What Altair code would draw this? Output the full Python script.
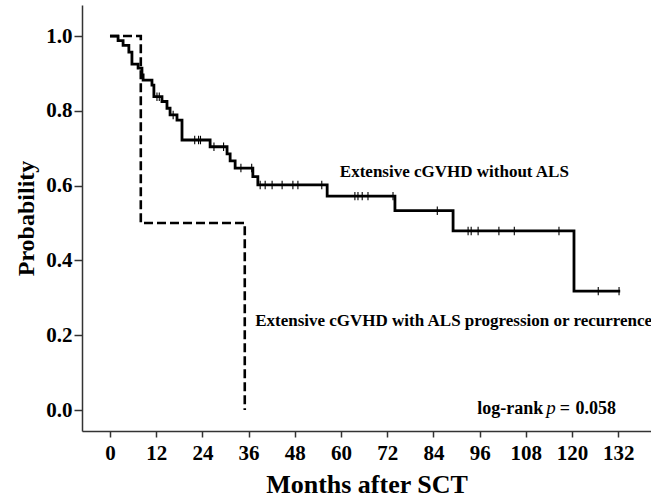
import altair as alt
import pandas as pd
import bisect

# Kaplan-Meier step points (time in months, survival probability from that time on)
solid_t = [0, 2.1, 3.4, 4.9, 5.7, 7.3, 8.3, 8.6, 10.9, 11.4, 13.5, 14.8, 15.6, 17.4,
           18.7, 26.0, 30.4, 31.2, 32.5, 37.1, 38.4, 56.4, 74.0, 89.1, 120.5, 132.5]
solid_s = [1.0, 0.988, 0.975, 0.957, 0.925, 0.914, 0.896, 0.882, 0.869, 0.838, 0.825,
           0.807, 0.789, 0.775, 0.722, 0.704, 0.685, 0.666, 0.647, 0.624, 0.602, 0.572,
           0.533, 0.479, 0.318, 0.318]
dash_t = [0, 8, 35]
dash_s = [1.0, 0.5, 0.0]
# censored observations on the solid curve
cens_t = [12.2, 12.8, 16.4, 22.0, 23.0, 23.5, 27.0, 29.5, 34.0, 36.8, 39.0, 40.3, 42.1,
          44.7, 47.5, 48.8, 55.0, 63.6, 64.4, 65.5, 67.0, 73.5, 85.0, 93.0, 93.8, 95.6,
          101.0, 105.0, 116.6, 126.8, 132.2]

x_ticks = [0, 12, 24, 36, 48, 60, 72, 84, 96, 108, 120, 132]
y_ticks = [0.0, 0.2, 0.4, 0.6, 0.8, 1.0]

curve_labels = ["Extensive cGVHD without ALS",
                "Extensive cGVHD with ALS progression or recurrence"]
curve_label_t = [59.7, 37.7]
curve_label_s = [0.623, 0.225]

stat_bold = ["log-rank", "=", "0.058"]
stat_bold_t = [95.4, 116.8, 120.9]
stat_italic = ["p"]
stat_italic_t = [113.3]
stat_s = -0.011

FONT = "Liberation Serif"

solid_df = pd.DataFrame({"t": solid_t, "s": solid_s})
dash_df = pd.DataFrame({"t": dash_t, "s": dash_s})


def surv_at(t):
    i = bisect.bisect_right(solid_t, t) - 1
    return solid_s[i]


cens_df = pd.DataFrame({"t": cens_t, "s": [surv_at(t) for t in cens_t]})
lab_df = pd.DataFrame({"t": curve_label_t, "s": curve_label_s, "label": curve_labels})
bold_df = pd.DataFrame({"t": stat_bold_t, "s": [stat_s] * len(stat_bold), "label": stat_bold})
ital_df = pd.DataFrame({"t": stat_italic_t, "s": [stat_s], "label": stat_italic})

xs = alt.Scale(domain=[-7.27, 140.5], nice=False, zero=False)
ys = alt.Scale(domain=[-0.056, 1.083], nice=False, zero=False)

xaxis = alt.Axis(values=x_ticks, title="Months after SCT", grid=False,
                 labelFont=FONT, labelFontSize=21, labelFontWeight="bold", labelColor="black",
                 labelPadding=5, labelFlush=False, tickSize=6, tickColor="#333333", tickWidth=1.5,
                 domainColor="#333333", domainWidth=1.5,
                 titleFont=FONT, titleFontSize=26, titleFontWeight="bold", titleColor="black",
                 titlePadding=8)
yaxis = alt.Axis(values=y_ticks, format=".1f", title="Probability", grid=False,
                 labelFont=FONT, labelFontSize=21, labelFontWeight="bold", labelColor="black",
                 labelPadding=2, tickSize=8, tickColor="#333333", tickWidth=1.5,
                 domainColor="#333333", domainWidth=1.5,
                 titleFont=FONT, titleFontSize=24, titleFontWeight="bold", titleColor="black",
                 titlePadding=7)

X = alt.X("t:Q", scale=xs, axis=xaxis)
Y = alt.Y("s:Q", scale=ys, axis=yaxis)

solid = alt.Chart(solid_df).mark_line(interpolate="step-after", color="black",
                                      strokeWidth=2.8).encode(x=X, y=Y)
dashed = alt.Chart(dash_df).mark_line(interpolate="step-after", color="black",
                                      strokeWidth=2.6, strokeDash=[9, 4]).encode(x=X, y=Y)
cens = alt.Chart(cens_df).mark_point(shape="M0,-1L0,1", size=72, filled=False,
                                     stroke="black", strokeWidth=1.1, opacity=1).encode(x=X, y=Y)
labs = alt.Chart(lab_df).mark_text(font=FONT, fontSize=17, fontWeight="bold", align="left",
                                   baseline="alphabetic", color="black").encode(x=X, y=Y, text="label:N")
bold = alt.Chart(bold_df).mark_text(font=FONT, fontSize=18, fontWeight="bold", align="left",
                                    baseline="alphabetic", color="black").encode(x=X, y=Y, text="label:N")
ital = alt.Chart(ital_df).mark_text(font=FONT, fontSize=19, fontStyle="italic", align="left",
                                    baseline="alphabetic", color="black").encode(x=X, y=Y, text="label:N")

chart = alt.layer(solid, dashed, cens, labs, bold, ital).properties(
    width=569, height=426,
    padding={"left": 82, "top": 5, "right": 0, "bottom": 66},
    autosize=alt.AutoSizeParams(type="none"),
    background="white",
).configure_view(stroke=None)

chart.save("out.html", embed_options={"renderer": "svg", "actions": False})
